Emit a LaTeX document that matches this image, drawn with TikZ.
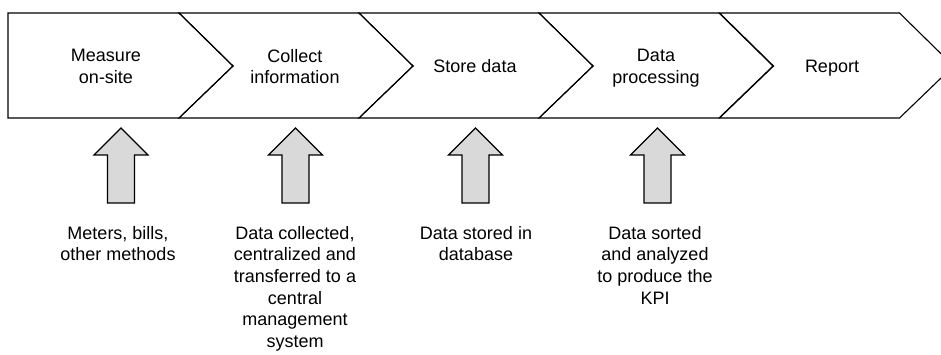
\documentclass[tikz,border=0pt]{standalone}
\usepackage{fontspec}
\setmainfont{Liberation Sans}
\definecolor{arrowgray}{RGB}{217,217,217}
\begin{document}
\begin{tikzpicture}[x=1pt,y=-1pt,
  chev/.style={draw=black,line width=1.1pt,line join=miter},
  blockarrow/.style={draw=black,fill=arrowgray,line width=1.1pt,line join=miter},
  lbl/.style={inner sep=0pt,align=center,font=\fontsize{18}{21.6}\selectfont}]
\useasboundingbox (0,0) rectangle (941,354);
\clip (0,0) rectangle (941,354);
% chevrons
\draw[chev] (8,13) -- (179,13) -- (233,66) -- (179,118) -- (8,118) -- cycle;
\foreach \x in {179,359,539,719.5} {
  \draw[chev] (\x,13) -- (\x+180,13) -- (\x+234,66) -- (\x+180,118) -- (\x,118) -- (\x+54,66) -- cycle;
}
% step labels
\node[lbl,anchor=north] (s1) at (106,49) {Measure\\on-site};
\node[lbl,anchor=north] (s2) at (295,49) {Collect\\information};
\node[lbl,anchor=base]  (s3) at (475,72) {Store data};
\node[lbl,anchor=north] (s4) at (656,49) {Data\\processing};
\node[lbl,anchor=base]  (s5) at (832,72) {Report};
% block arrows
\foreach \c in {121,295.5,475.5,657.5} {
  \draw[blockarrow] (\c,128) -- (\c+27,155) -- (\c+13.5,155) -- (\c+13.5,203)
    -- (\c-13.5,203) -- (\c-13.5,155) -- (\c-27,155) -- cycle;
}
% descriptions
\node[lbl,anchor=north] (d1) at (118,226) {Meters, bills,\\other methods};
\node[lbl,anchor=north] (d2) at (295,226) {Data collected,\\centralized and\\transferred to a\\central\\management\\system};
\node[lbl,anchor=north] (d3) at (476,226) {Data stored in\\database};
\node[lbl,anchor=north] (d4) at (655,226) {Data sorted\\and analyzed\\to produce the\\KPI};
\end{tikzpicture}
\end{document}
